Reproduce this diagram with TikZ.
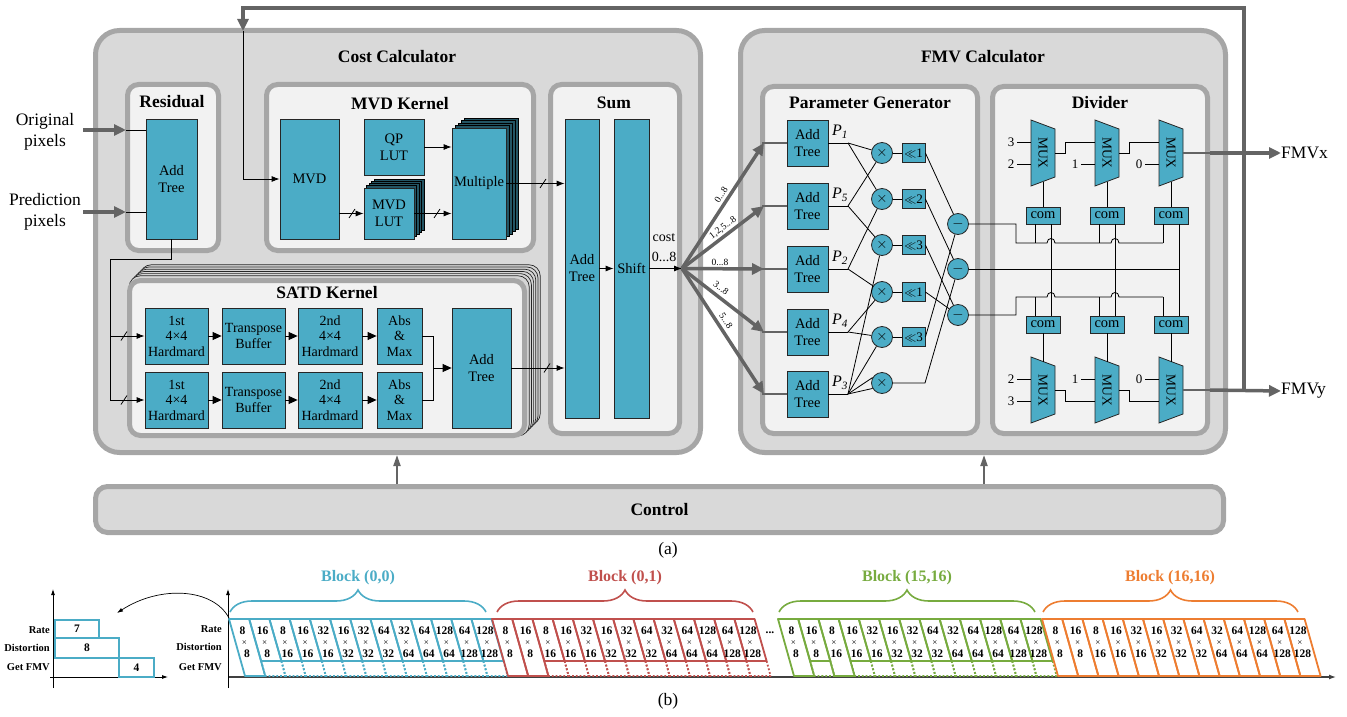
\documentclass[tikz,border=0pt]{standalone}
\usepackage{fontspec}
\setmainfont{Liberation Serif}
\usetikzlibrary{arrows.meta,calc,decorations.pathreplacing}
\definecolor{tealb}{RGB}{75,172,198}
\definecolor{tealdk}{RGB}{35,85,100}
\definecolor{outerg}{RGB}{217,217,217}
\definecolor{innerg}{RGB}{242,242,242}
\definecolor{bordg}{RGB}{166,166,166}
\definecolor{arrg}{RGB}{100,100,100}
\definecolor{cblue}{RGB}{75,172,198}
\definecolor{cred}{RGB}{192,80,77}
\definecolor{cgreen}{RGB}{119,171,63}
\definecolor{corange}{RGB}{237,125,49}
\tikzset{
  outerbox/.style={draw=bordg,fill=outerg,line width=5pt,rounded corners=24pt},
  innerbox/.style={draw=bordg,fill=innerg,line width=5pt,rounded corners=11pt},
  ttl/.style={font=\fontsize{17.5}{20}\selectfont\bfseries,inner sep=0pt},
  lbl/.style={font=\fontsize{17.5}{21}\selectfont,inner sep=0pt,align=center},
  blk/.style={draw=black!85,fill=tealb,line width=0.8pt,align=center,inner sep=0pt,
     font=\fontsize{14.5}{17}\selectfont},
  sblk/.style={blk,minimum height=56pt,font=\fontsize{14}{15.5}\selectfont},
  stk/.style={draw=black,fill=tealdk,line width=0.6pt},
  wire/.style={line width=0.8pt,draw=black},
  arw/.style={wire,-{Latex[length=8pt,width=6pt]}},
  barw/.style={wire,-{Triangle[length=9pt,width=8pt]}},
  garw/.style={draw=arrg,line width=3.5pt,-{Triangle[length=12pt,width=11pt]}},
  gthin/.style={draw=arrg,line width=1.4pt},
  carw/.style={draw=arrg,line width=2pt,-{Triangle[length=11pt,width=7pt]}},
  circ/.style={circle,draw=black!85,fill=tealb,line width=0.8pt,minimum size=21pt,inner sep=0pt,font=\fontsize{14}{16}\selectfont},
  small/.style={font=\fontsize{9.5}{10}\selectfont,inner sep=0pt},
  num/.style={font=\fontsize{13}{14}\selectfont,inner sep=0pt},
  cellline/.style={line width=1.8pt,line join=round},
  cnum/.style={font=\fontsize{11.5}{12}\selectfont\bfseries,inner sep=0pt},
  cx/.style={font=\fontsize{9}{10}\selectfont,inner sep=0pt},
  lblb/.style={font=\fontsize{10.5}{12}\selectfont\bfseries,inner sep=0pt},
  blkt/.style={font=\fontsize{16}{18}\selectfont\bfseries,inner sep=0pt},
}
\newcommand\wslash[2]{\draw[wire] (#1-3,#2+4.5) -- (#1+3,#2-4.5);}
\newcommand\mux[3]{%
  \draw[fill=tealb,draw=black!85,line width=0.8pt] (#2-12,#3-33) -- (#2+12,#3-24) -- (#2+12,#3+24) -- (#2-12,#3+33) -- cycle;
  \node[rotate=-90,font=\fontsize{13.5}{14}\selectfont,inner sep=0pt] (#1) at (#2,#3) {MUX};
}
\newcommand\blockrow[3]{%
  \foreach \va/\vb [count=\ci from 0] in {8/8,16/8,8/16,16/16,32/16,16/32,32/32,64/32,32/64,64/64,128/64,64/128,128/128}{%
    \pgfmathsetmacro\xl{#1+\ci*20.2}%
    \pgfmathsetmacro\xr{\xl+20.2}%
    \pgfmathtruncatemacro\ft{#3[\ci]}%
    \ifnum\ft=1
      \draw[cellline,draw=#2] (\xl,619) -- (\xr,619) -- (\xr+16,676) -- (\xl+16,676) -- cycle;
    \else
      \draw[cellline,draw=#2] (\xl,619) -- (\xr,619) -- (\xr+12,661) -- (\xl+12,661) -- cycle;
      \draw[cellline,draw=#2,dotted] (\xl+12,661) -- (\xl+16,676) -- (\xr+16,676) -- (\xr+12,661);
    \fi
    \node[cnum] (t#1x\ci) at (\xl+13.5,631) {\va};
    \node[cx] (x#1x\ci) at (\xl+15.5,643) {×};
    \node[cnum] (b#1x\ci) at (\xl+18,654) {\vb};
  }%
}
\begin{document}
\begin{tikzpicture}[x=1pt,y=-1pt]
\useasboundingbox (0,0) rectangle (1347,717);
% ===== containers =====
\draw[outerbox] (95.5,30.5) rectangle (700.5,452.5);
\draw[outerbox] (740.5,30.5) rectangle (1225.5,452.5);
\node[outerbox,rounded corners=12pt,minimum width=1128pt,minimum height=46pt,ttl] (ctrl) at (659.5,509.5) {Control};
\node[ttl] (tcc) at (397,57) {Cost Calculator};
\node[ttl] (tfc) at (983,57) {FMV Calculator};
\draw[innerbox] (127.5,84.5) rectangle (218.5,250.5);
\draw[innerbox] (266.5,84.5) rectangle (533.5,250.5);
\draw[innerbox] (550.5,84.5) rectangle (679.5,433.5);
\draw[innerbox] (762.5,86.5) rectangle (977.5,433.5);
\draw[innerbox] (992.5,86.5) rectangle (1207.5,433.5);
\foreach \k in {6,5,4,3,2,1}
  \draw[draw=black!85,fill=innerg!75!gray,line width=0.7pt,rounded corners=11pt] (127+2.2*\k,278-2.2*\k) rectangle (527+2.2*\k,438-2.2*\k);
\draw[innerbox] (129.5,280.5) rectangle (524.5,435.5);
\node[ttl] (tres) at (172,102) {Residual};
\node[ttl] (tmvd) at (400,104) {MVD Kernel};
\node[ttl] (tsum) at (614,103) {Sum};
\node[ttl] (tpg) at (870,103) {Parameter Generator};
\node[ttl] (tdiv) at (1100,103) {Divider};
\node[ttl] (tsatd) at (327,293) {SATD Kernel};
% ===== inputs =====
\node[lbl] (orig) at (45,132) {Original\\pixels};
\node[lbl] (pred) at (45,212) {Prediction\\pixels};
\node[blk,minimum width=51pt,minimum height=120pt] (radd) at (171.5,179) {Add\\Tree};
\coordinate (oi) at (126,130); \coordinate (pi) at (126,212);
\draw[garw] (83,130) -- (oi);
\draw[garw] (83,212) -- (pi);
\draw[wire] (oi) -- (oi -| radd.west);
\draw[wire] (pi) -- (pi -| radd.west);
% ===== MVD kernel =====
\node[blk,minimum width=59pt,minimum height=120pt] (mvd) at (309.5,179) {MVD};
\node[blk,minimum width=60pt,minimum height=56pt] (qp) at (394,147) {QP\\LUT};
\foreach \k in {4,3,2,1} \draw[stk] (364+2.5*\k,188-2.25*\k) rectangle (414+2.5*\k,239-2.25*\k);
\node[blk,minimum width=50pt,minimum height=51pt] (mlut) at (389,213.5) {MVD\\LUT};
\foreach \k in {4,3,2,1} \draw[stk] (452+3*\k,128-2.5*\k) rectangle (506+3*\k,239-2.5*\k);
\node[blk,minimum width=54pt,minimum height=111pt] (mult) at (479,183.5) {Multiple};
\draw[arw] (mvd.east |- mlut.west) -- (mlut.west); \wslash{352}{213.5}
\draw[arw] (qp.east) -- (qp.east -| mult.west);
\draw[arw] (mlut.east) -- (mlut.east -| mult.west); \wslash{437}{213.5}
% ===== Sum =====
\node[blk,minimum width=34pt,minimum height=299pt] (sadd) at (582,268.5) {Add\\Tree};
\node[blk,minimum width=35pt,minimum height=299pt] (shift) at (631.5,268.5) {Shift};
\draw[arw] (mult.east) -- (mult.east -| sadd.west); \wslash{543}{183.5}
\draw[arw] (sadd.east) -- (shift.west);
% ===== SATD =====
\foreach \r/\y in {a/336,b/400}{
  \node[sblk,minimum width=63pt] (h1\r) at (176.5,\y) {1st\\4×4\\Hardmard};
  \node[sblk,minimum width=63pt] (tb\r) at (253.5,\y) {Transpose\\Buffer};
  \node[sblk,minimum width=64pt] (h2\r) at (330,\y) {2nd\\4×4\\Hardmard};
  \node[sblk,minimum width=45pt] (am\r) at (399.5,\y) {Abs\\\&\\Max};
  \draw[barw] (h1\r) -- (tb\r);
  \draw[barw] (tb\r) -- (h2\r);
  \draw[barw] (h2\r) -- (am\r);
}
\node[blk,minimum width=59pt,minimum height=120pt] (sat) at (481.5,368) {Add\\Tree};
\coordinate (jn) at (433,368);
\draw[wire] (ama.east) -- (ama.east -| jn) -- (amb.east -| jn) -- (amb.east);
\draw[barw] (jn) -- (sat.west);
\draw[arw] (sat.east) -- (sat.east -| sadd.west); \wslash{547}{368}
\coordinate (r1) at (171.5,259); \coordinate (r2) at (110,259); \coordinate (r3) at (110,400);
\draw[wire] (radd.south) -- (r1) -- (r2) -- (r3);
\draw[arw] (r2 |- h1a.west) -- (h1a.west); \wslash{124}{336}
\draw[arw] (r3) -- (h1b.west); \wslash{124}{400}
% ===== fan out =====
\coordinate (fan) at (682,268.5);
\draw[arw] (shift.east) -- (fan);
\node[font=\fontsize{14}{16}\selectfont,inner sep=0pt] (costl) at (664,238) {cost};
\node[font=\fontsize{14}{16}\selectfont,inner sep=0pt] (costn) at (664,257) {0...8};
% ===== Parameter generator =====
\foreach \n/\y in {1/143,5/206,2/269,4/332,3/394}{
  \node[blk,minimum width=41pt,minimum height=46pt] (at\n) at (807.5,\y) {Add\\Tree};
  \coordinate (p\n) at (848,\y);
  \coordinate (pin\n) at (764,\y);
  \draw[wire] (at\n.east) -- (p\n);
  \node[font=\fontsize{16}{18}\selectfont,inner sep=0pt] (pl\n) at (840,\y-11) {\textit{P}\textsubscript{\textit{\n}}};
  \draw[gthin] (762,\y) -- (at\n.west);
  \draw[garw] (fan) -- (pin\n);
}
\node[small,rotate=57] (f1) at (721,195) {0...8};
\node[small,rotate=37] (f2) at (723,228) {1,2,5...8};
\node[small] (f3) at (720,262) {0...8};
\node[small,rotate=-37] (f4) at (721,288) {3...8};
\node[small,rotate=-57] (f5) at (726,321) {5...8};
\foreach \n/\y in {1/153,2/199,3/245,4/292,5/337,6/383}
  \node[circ] (m\n) at (882,\y) {$\times$};
\foreach \n/\y/\s in {1/153/1,2/199/2,3/245/3,4/292/1,5/337/3}{
  \node[blk,minimum width=23pt,minimum height=19pt,font=\fontsize{13}{14}\selectfont] (s\n) at (913.5,\y) {$\ll$\s};
  \draw[wire] (m\n) -- (s\n);
}
\foreach \n/\y in {1/224,2/269,3/315}
  \node[circ] (d\n) at (958,\y) {$-$};
\draw[wire] (p1) -- (m1); \draw[wire] (p1) -- (m2);
\draw[wire] (p5) -- (m1); \draw[wire] (p5) -- (m3);
\draw[wire] (p2) -- (m2); \draw[wire] (p2) -- (m4);
\draw[wire] (p4) -- (m4); \draw[wire] (p4) -- (m5);
\draw[wire] (p3) -- (m3); \draw[wire] (p3) -- (m5);
\draw[wire] (p3) -- (m6.150); \draw[wire] (p3) -- (m6.210);
\draw[wire] (s1.east) -- (d1); \draw[wire] (s5.east) -- (d1);
\draw[wire] (s2.east) -- (d2); \draw[wire] (m6.east) -- (925,383) -- (d2);
\draw[wire] (s3.east) -- (d3); \draw[wire] (s4.east) -- (d3);
% ===== Divider =====
\mux{mt1}{1043}{153} \mux{mt2}{1107}{153} \mux{mt3}{1171}{153}
\mux{mb1}{1043}{390} \mux{mb2}{1107}{390} \mux{mb3}{1171}{390}
\foreach \n/\x in {1/1043,2/1107,3/1171}{
  \node[blk,minimum width=34pt,minimum height=17pt] (ct\n) at (\x,215.5) {com};
  \node[blk,minimum width=34pt,minimum height=17pt] (cb\n) at (\x,324.5) {com};
  \draw[wire] (\x,181.5) -- (ct\n.north);
  \draw[wire] (cb\n.south) -- (\x,361.5);
  \draw[wire] (\x-8,224) -- (\x-8,243);
  \draw[wire] (\x+8,224) -- (\x+8,316);
  \draw[wire] (\x-8,297) -- (\x-8,316);
}
\draw[wire] (d1.east) -- (1016,224) -- (1016,243) -- (1047,243) .. controls (1047,237) and (1055,237) .. (1055,243) -- (1111,243) .. controls (1111,237) and (1119,237) .. (1119,243) -- (1163,243);
\draw[wire] (d2.east) -- (1179,269);
\draw[wire] (d3.east) -- (1016,315) -- (1016,297) -- (1047,297) .. controls (1047,291) and (1055,291) .. (1055,297) -- (1111,297) .. controls (1111,291) and (1119,291) .. (1119,297) -- (1163,297);
% mux inputs
\node[num] (i31) at (1011,142) {3}; \draw[wire] (1017,142) -- (1031,142);
\node[num] (i21) at (1011,164) {2}; \draw[wire] (1017,164) -- (1031,164);
\node[num] (i12) at (1075,164) {1}; \draw[wire] (1081,164) -- (1095,164);
\node[num] (i03) at (1139,164) {0}; \draw[wire] (1145,164) -- (1159,164);
\draw[wire] (1055,153) -- (1065,153) -- (1065,142) -- (1095,142);
\draw[wire] (1119,153) -- (1129,153) -- (1129,142) -- (1159,142);
\node[num] (j21) at (1011,379) {2}; \draw[wire] (1017,379) -- (1031,379);
\node[num] (j31) at (1011,401) {3}; \draw[wire] (1017,401) -- (1031,401);
\node[num] (j12) at (1075,379) {1}; \draw[wire] (1081,379) -- (1095,379);
\node[num] (j03) at (1139,379) {0}; \draw[wire] (1145,379) -- (1159,379);
\draw[wire] (1055,390) -- (1065,390) -- (1065,401) -- (1095,401);
\draw[wire] (1119,390) -- (1129,390) -- (1129,401) -- (1159,401);
% outputs
\coordinate (ox) at (1210,153); \coordinate (oy) at (1210,390);
\draw[gthin] (1183,153) -- (ox); \draw[gthin] (1183,390) -- (oy);
\node[lbl,anchor=west] (fmvx) at (1281,153) {FMVx};
\node[lbl,anchor=west] (fmvy) at (1281,391) {FMVy};
\draw[garw] (ox) -- (fmvx.west);
\draw[garw] (oy) -- (fmvy.west);
% feedback
\coordinate (fb0) at (1244,390); \coordinate (fb1) at (1244,8); \coordinate (fb2) at (243,8); \coordinate (fb3) at (243,31);
\draw[garw,line join=miter] (fb0) -- (fb1) -- (fb2) -- (fb3);
\draw[arw] (fb3) -- (fb3 |- mvd.west) -- (mvd.west);
% control
\coordinate (cc1) at (397,455); \coordinate (cc2) at (984,455);
\draw[carw] (ctrl.north -| cc1) -- (cc1);
\draw[carw] (ctrl.north -| cc2) -- (cc2);
\node[lbl] (capa) at (668,550) {(a)};
% ===== (b) =====
\draw[wire,-{Latex[length=6pt,width=4pt]}] (53,688) -- (53,589);
\draw[wire,-{Latex[length=6pt,width=4pt]}] (50,677) -- (168,677);
\node[draw=cblue,line width=2pt,minimum width=44pt,minimum height=18pt,inner sep=0pt,cnum] (mrate) at (77,629) {7};
\node[draw=cblue,line width=2pt,minimum width=64pt,minimum height=20pt,inner sep=0pt,cnum] (mdist) at (87,648) {8};
\node[draw=cblue,line width=2pt,minimum width=35pt,minimum height=19pt,inner sep=0pt,cnum] (mfmv) at (136.5,667.5) {4};
\node[lblb,anchor=east] (lr1) at (50,630) {Rate};
\node[lblb,anchor=east] (ld1) at (50,648) {Distortion};
\node[lblb,anchor=east] (lg1) at (50,667) {Get FMV};
\draw[line width=1.3pt,draw=black!75,-{Latex[length=7pt,width=5pt]}] (228,677) -- (1336,677);
\draw[wire,-{Latex[length=6pt,width=4pt]}] (228,688) -- (228,589);
\node[lblb,anchor=east] (lr2) at (222,629) {Rate};
\node[lblb,anchor=east] (ld2) at (222,647) {Distortion};
\node[lblb,anchor=east] (lg2) at (222,667) {Get FMV};
\coordinate (cs) at (229,618); \coordinate (ce) at (117,613);
\draw[line width=0.7pt,-{Latex[length=6pt,width=4pt]}] (cs) .. controls (213,588) and (160,585) .. (ce);
\blockrow{229}{cblue}{{1,0,0,0,0,0,0,0,0,0,0,0,0}}
\blockrow{492}{cred}{{1,1,0,0,0,0,0,0,0,0,0,0,0}}
\blockrow{778}{cgreen}{{1,0,1,0,0,0,0,0,0,0,0,0,0}}
\blockrow{1042}{corange}{{1,1,1,1,1,1,1,1,1,1,1,1,1}}
\node[cnum] (dots) at (770,633) {...};
\draw[decorate,decoration={brace,amplitude=22pt},line width=1.6pt,draw=cblue] (230,612) -- (486,612);
\draw[decorate,decoration={brace,amplitude=22pt},line width=1.6pt,draw=cred] (497,612) -- (753,612);
\draw[decorate,decoration={brace,amplitude=22pt},line width=1.6pt,draw=cgreen] (779,612) -- (1035,612);
\draw[decorate,decoration={brace,amplitude=22pt},line width=1.6pt,draw=corange] (1043,612) -- (1298,612);
\node[blkt,text=cblue] (bk1) at (358,578) {Block (0,0)};
\node[blkt,text=cred] (bk2) at (625,578) {Block (0,1)};
\node[blkt,text=cgreen] (bk3) at (907,578) {Block (15,16)};
\node[blkt,text=corange] (bk4) at (1170,578) {Block (16,16)};
\node[lbl] (capb) at (668,701) {(b)};
\end{tikzpicture}
\end{document}
